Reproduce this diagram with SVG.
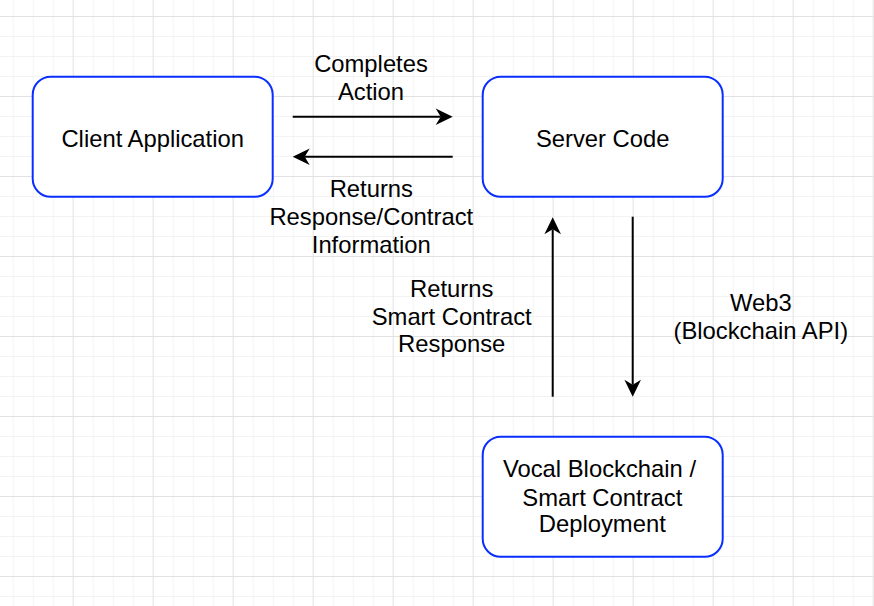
<svg xmlns="http://www.w3.org/2000/svg" width="874" height="606" viewBox="0 0 874 606">
  <style>
    .node rect { fill: #ffffff; stroke: #0a2eff; stroke-width: 2; }
    text { font-family: "Liberation Sans", Arial, Helvetica, sans-serif; font-size: 23.8px; fill: #000000; text-anchor: middle; }
    .conn { stroke: #000000; stroke-width: 2; fill: none; marker-end: url(#arr); }
  </style>
  <defs>
    <pattern id="minor" patternUnits="userSpaceOnUse" x="12.7" y="16" width="20" height="20">
      <path d="M0,0 H20 M0,0 V20" stroke="#efefef" stroke-width="1.3" fill="none"/>
    </pattern>
    <pattern id="major" patternUnits="userSpaceOnUse" x="72.7" y="16" width="80" height="80">
      <path d="M0,0 H80 M0,0 V80" stroke="#dddddd" stroke-width="1.3" fill="none"/>
    </pattern>
    <marker id="arr" viewBox="-18 -9 19 18" refX="-12" refY="0" markerWidth="19" markerHeight="18" markerUnits="userSpaceOnUse" orient="auto">
      <path d="M0,0 L-17,-8.3 L-12,0 L-17,8.3 Z" fill="#000000"/>
    </marker>
  </defs>
  <rect x="0" y="0" width="874" height="606" fill="#ffffff"/>
  <rect x="0" y="0" width="874" height="606" fill="url(#minor)"/>
  <rect x="0" y="0" width="874" height="606" fill="url(#major)"/>

  <g id="connectors">
    <path class="conn" d="M292.7,116.7 H440.7"/>
    <path class="conn" d="M452.7,156.7 H304.7"/>
    <path class="conn" d="M552.7,396.7 V229.3"/>
    <path class="conn" d="M632.7,216.7 V384.7"/>
    <text x="371" y="71.7">Completes</text>
    <text x="371" y="100">Action</text>
    <text x="371.3" y="196.7">Returns</text>
    <text x="371.3" y="225">Response/Contract</text>
    <text x="371.3" y="253.3">Information</text>
    <text x="451.7" y="296.7">Returns</text>
    <text x="451.7" y="325">Smart Contract</text>
    <text x="451.7" y="351.7">Response</text>
    <text x="760.8" y="310.7">Web3</text>
    <text x="760.8" y="339.3">(Blockchain API)</text>
  </g>

  <g id="client" class="node">
    <rect x="32.7" y="76.7" width="240" height="120" rx="18" ry="18"/>
    <text x="152.7" y="146.5">Client Application</text>
  </g>
  <g id="server" class="node">
    <rect x="482.7" y="76.7" width="240" height="120" rx="18" ry="18"/>
    <text x="602.7" y="146.5">Server Code</text>
  </g>
  <g id="blockchain" class="node">
    <rect x="482.7" y="436.7" width="240" height="120" rx="18" ry="18"/>
    <text x="599.5" y="477.3">Vocal Blockchain /</text>
    <text x="602.3" y="506">Smart Contract</text>
    <text x="602.3" y="531.7">Deployment</text>
  </g>
</svg>
